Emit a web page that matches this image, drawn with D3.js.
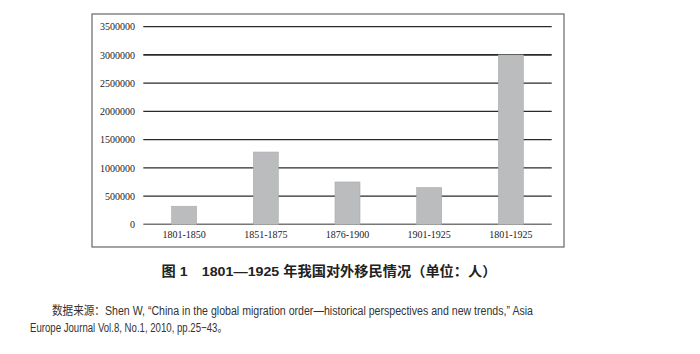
<!DOCTYPE html>
<html><head><meta charset="utf-8">
<script src="https://cdn.jsdelivr.net/npm/d3@7"></script>
<style>body{margin:0;background:#fff;}svg{display:block;}</style>
</head><body>
<svg id="c" width="700" height="354"></svg>
<script>
const categories = ["1801-1850","1851-1875","1876-1900","1901-1925","1801-1925"];
const values = [320000, 1280000, 750000, 650000, 3000000];
const yTicks = [0,500000,1000000,1500000,2000000,2500000,3000000,3500000];
const title = "图 1　1801—1925 年我国对外移民情况（单位：人）";
const source1 = "数据来源：Shen W, “China in the global migration order—historical perspectives and new trends,” Asia";
const source2 = "Europe Journal Vol.8, No.1, 2010, pp.25−43。";

const svg = d3.select("#c");
// frame
svg.append("rect").attr("x",92).attr("y",14).attr("width",472).attr("height",233)
  .attr("fill","none").attr("stroke","#666").attr("stroke-width",1.2);

const x = d3.scaleBand().domain(categories).range([143.3,551.7]).paddingInner(0.694).paddingOuter(0.347);
const y = d3.scaleLinear().domain([0,3500000]).range([224.3,26.7]);

// gridlines
svg.append("g").selectAll("line").data(yTicks).join("line")
  .attr("x1",143.3).attr("x2",551.7)
  .attr("y1",d=>y(d)).attr("y2",d=>y(d))
  .attr("stroke",d=>d===0?"#777":"#2a2a2a")
  .attr("stroke-width",d=>d===3000000?1.7:(d===0?1.5:1.2));

// y axis labels
const yAxis = d3.axisLeft(y).tickValues(yTicks).tickSize(0).tickPadding(0).tickFormat(d3.format("d"));
const ga = svg.append("g").attr("transform","translate(135,0)").call(yAxis);
ga.select(".domain").remove();
ga.selectAll("text").attr("font-family","Liberation Serif").attr("font-size",10).attr("fill","#222");

// bars
svg.append("g").selectAll("rect").data(values).join("rect")
  .attr("x",(d,i)=>x(categories[i])).attr("width",x.bandwidth())
  .attr("y",d=>y(d)).attr("height",d=>y(0)-y(d))
  .attr("fill","#bbbcbe").attr("stroke","#aaa").attr("stroke-width",0.6);

// x labels
const xAxis = d3.axisBottom(x).tickSize(0).tickPadding(0);
const gx = svg.append("g").attr("transform","translate(0,231)").call(xAxis);
gx.select(".domain").remove();
gx.selectAll("text").attr("font-family","Liberation Serif").attr("font-size",10).attr("fill","#222").attr("dy","0.71em");

// title
svg.append("text").attr("x",329).attr("y",276).attr("text-anchor","middle")
  .attr("font-family","'Liberation Sans', 'Noto Sans CJK SC'").attr("font-weight","bold").attr("font-size",13.5).attr("fill","#222")
  .attr("textLength",335).attr("lengthAdjust","spacingAndGlyphs").text(title);

// source
svg.append("text").attr("x",52).attr("y",315)
  .attr("font-family","'Liberation Sans', 'Noto Sans CJK SC'").attr("font-size",12.5).attr("fill","#333")
  .attr("textLength",481).attr("lengthAdjust","spacingAndGlyphs").text(source1);
svg.append("text").attr("x",30).attr("y",332)
  .attr("font-family","'Liberation Sans', 'Noto Sans CJK SC'").attr("font-size",12.5).attr("fill","#333")
  .attr("textLength",197).attr("lengthAdjust","spacingAndGlyphs").text(source2);
</script>
</body></html>
